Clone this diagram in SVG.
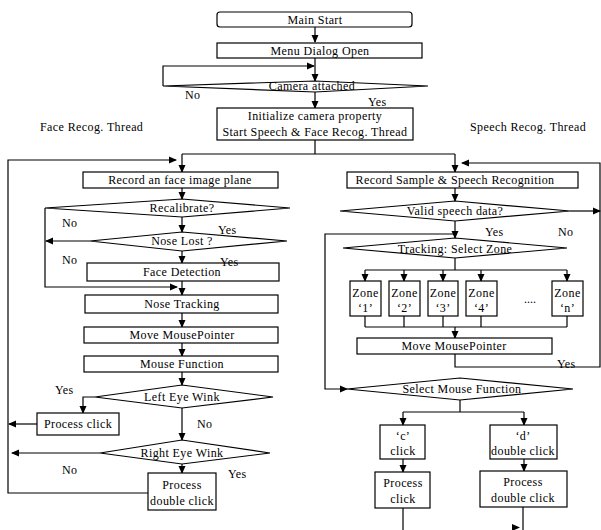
<svg xmlns="http://www.w3.org/2000/svg" width="601" height="530" viewBox="0 0 601 530">
<defs>
<marker id="a" markerWidth="8" markerHeight="8" refX="7" refY="4" orient="auto" markerUnits="userSpaceOnUse"><path d="M0,0.5 L8,4 L0,7.5 z" fill="#000"/></marker>
<style>
rect,polygon.d{fill:#fff;stroke:#000;stroke-width:1.2}
text{font-family:"Liberation Serif","Times New Roman",serif;font-size:12px;letter-spacing:0.4px;fill:#000}
.m{text-anchor:middle}
#connectors path,#connectors line{fill:none;stroke:#000;stroke-width:1.2}
.ar{marker-end:url(#a)}
</style>
</defs>
<rect x="0" y="0" width="601" height="530" style="fill:#fff;stroke:none"/>

<text x="40" y="131">Face Recog. Thread</text>
<text x="470" y="131">Speech Recog. Thread</text>

<g id="connectors">
<path class="ar" d="M315,27 V42"/>
<path class="ar" d="M315,58 V81"/>
<path class="ar" d="M163,86 V66 H314"/>
<path class="ar" d="M315,92 V108"/>
<path d="M315,140 V154 M182,154 H455"/>
<path class="ar" d="M182,154 V172"/>
<path class="ar" d="M455,154 V172"/>
<path class="ar" d="M148,493 H8 V160 H176"/>
<path class="ar" d="M455,354 V367 H600 V163 H462"/>
<path class="ar" d="M455,188 V201"/>
<path class="ar" d="M570,211 H600"/>
<path class="ar" d="M455,221 V238"/>
<path class="ar" d="M455,234 H325 V389 H347"/>
<path d="M455,258 V270 M365,270 H567"/>
<path class="ar" d="M365,270 V281"/>
<path class="ar" d="M404,270 V281"/>
<path class="ar" d="M443,270 V281"/>
<path class="ar" d="M481,270 V281"/>
<path class="ar" d="M567,270 V281"/>
<path d="M365,316 V327 M404,316 V327 M443,316 V327 M481,316 V327 M567,316 V327 M365,327 H567"/>
<path class="ar" d="M455,327 V338"/>
<path d="M460,400 V412 M403,412 H524"/>
<path class="ar" d="M403,412 V425"/>
<path class="ar" d="M524,412 V425"/>
<path class="ar" d="M403,459 V472"/>
<path class="ar" d="M524,459 V471"/>
<path d="M403,508 V530 M523,507 V530"/>
<polygon points="512,524 520,527.5 512,531" fill="#000"/>
<path class="ar" d="M182,188 V199"/>
<path class="ar" d="M45,208 V287 H177"/>
<path class="ar" d="M182,217 V232"/>
<path class="ar" d="M90,241 H46"/>
<path class="ar" d="M182,251 V263"/>
<path class="ar" d="M182,281 V295"/>
<path class="ar" d="M182,313 V327"/>
<path class="ar" d="M182,343 V356"/>
<path class="ar" d="M182,372 V385"/>
<path class="ar" d="M95,397 H83 V413"/>
<path class="ar" d="M37,424 H9"/>
<path class="ar" d="M182,408 V440"/>
<path class="ar" d="M100,453 H12"/>
<path class="ar" d="M182,464 V473"/>
</g>

<g id="main-start"><rect x="217" y="12" width="195" height="15" rx="3"/><text class="m" x="315" y="23.5">Main Start</text></g>
<g id="menu-dialog"><rect x="217" y="43" width="205" height="15"/><text class="m" x="320" y="55">Menu Dialog Open</text></g>
<g id="camera-attached"><polygon class="d" points="163,86 315,81 428,86 315,92"/><text class="m" x="312" y="90">Camera attached</text></g>
<g id="init"><rect x="217" y="108" width="196" height="32"/><text class="m" x="315" y="120">Initialize camera property</text><text class="m" x="315" y="136">Start Speech &amp; Face Recog. Thread</text></g>

<g id="record-face"><rect x="83" y="172" width="195" height="16"/><text class="m" x="180" y="184">Record an face image plane</text></g>
<g id="recalibrate"><polygon class="d" points="45,208 182,199 290,208 182,217"/><text class="m" x="182" y="212">Recalibrate?</text></g>
<g id="nose-lost"><polygon class="d" points="90,241 182,232 287,241 182,251"/><text class="m" x="182" y="245">Nose Lost ?</text></g>
<g id="face-detection"><rect x="87" y="263" width="192" height="18"/><text class="m" x="182" y="276">Face Detection</text></g>
<g id="nose-tracking"><rect x="85" y="295" width="193" height="18"/><text class="m" x="182" y="308">Nose Tracking</text></g>
<g id="move-pointer-l"><rect x="84" y="327" width="194" height="16"/><text class="m" x="182" y="339">Move MousePointer</text></g>
<g id="mouse-function"><rect x="84" y="356" width="194" height="16"/><text class="m" x="182" y="368">Mouse Function</text></g>
<g id="left-eye"><polygon class="d" points="95,397 182,385 273,397 182,408"/><text class="m" x="182" y="401">Left Eye Wink</text></g>
<g id="process-click-l"><rect x="37" y="413" width="82" height="22"/><text class="m" x="78" y="428">Process click</text></g>
<g id="right-eye"><polygon class="d" points="100,453 182,440 270,453 182,464"/><text class="m" x="182" y="457">Right Eye Wink</text></g>
<g id="process-dbl-l"><rect x="148" y="473" width="68" height="37"/><text class="m" x="182" y="489">Process</text><text class="m" x="182" y="505">double click</text></g>

<g id="record-sample"><rect x="347" y="172" width="231" height="16"/><text class="m" x="455" y="184">Record Sample &amp; Speech Recognition</text></g>
<g id="valid-speech"><polygon class="d" points="340,211 455,201 570,211 455,221"/><text class="m" x="455" y="215">Valid speech data?</text></g>
<g id="tracking"><polygon class="d" points="343,248 455,238 567,248 455,258"/><text class="m" x="455" y="253">Tracking: Select Zone</text></g>
<g id="zone-1"><rect x="350" y="281" width="31" height="35"/><text class="m" x="365.5" y="297">Zone</text><text class="m" x="365.5" y="312">‘1’</text></g>
<g id="zone-2"><rect x="389" y="281" width="31" height="35"/><text class="m" x="404.5" y="297">Zone</text><text class="m" x="404.5" y="312">‘2’</text></g>
<g id="zone-3"><rect x="428" y="281" width="30" height="35"/><text class="m" x="443" y="297">Zone</text><text class="m" x="443" y="312">‘3’</text></g>
<g id="zone-4"><rect x="466" y="281" width="31" height="35"/><text class="m" x="481.5" y="297">Zone</text><text class="m" x="481.5" y="312">‘4’</text></g>
<text x="524" y="303" style="letter-spacing:0">....</text>
<g id="zone-n"><rect x="552" y="281" width="31" height="35"/><text class="m" x="567.5" y="297">Zone</text><text class="m" x="567.5" y="312">‘n’</text></g>
<g id="move-pointer-r"><rect x="357" y="338" width="195" height="16"/><text class="m" x="454" y="350">Move MousePointer</text></g>
<g id="select-mouse"><polygon class="d" points="347,389 460,378 573,389 460,400"/><text class="m" x="462" y="393">Select Mouse Function</text></g>
<g id="c-click"><rect x="380" y="425" width="45" height="34"/><text class="m" x="403" y="440">‘c’</text><text class="m" x="403" y="455">click</text></g>
<g id="d-click"><rect x="490" y="425" width="67" height="34"/><text class="m" x="523" y="440">‘d’</text><text class="m" x="523" y="455">double click</text></g>
<g id="process-click-r"><rect x="375" y="472" width="55" height="36"/><text class="m" x="403" y="487">Process</text><text class="m" x="403" y="503">click</text></g>
<g id="process-dbl-r"><rect x="480" y="471" width="87" height="36"/><text class="m" x="523" y="486">Process</text><text class="m" x="523" y="502">double click</text></g>

<g id="labels">
<text x="185" y="99">No</text>
<text x="368" y="106">Yes</text>
<text x="62" y="227">No</text>
<text x="218" y="234">Yes</text>
<text x="62" y="264">No</text>
<text x="220" y="266">Yes</text>
<text x="55" y="394">Yes</text>
<text x="197" y="428">No</text>
<text x="62" y="474">No</text>
<text x="228" y="478">Yes</text>
<text x="558" y="236">No</text>
<text x="485" y="236">Yes</text>
<text x="557" y="368">Yes</text>
</g>
</svg>
